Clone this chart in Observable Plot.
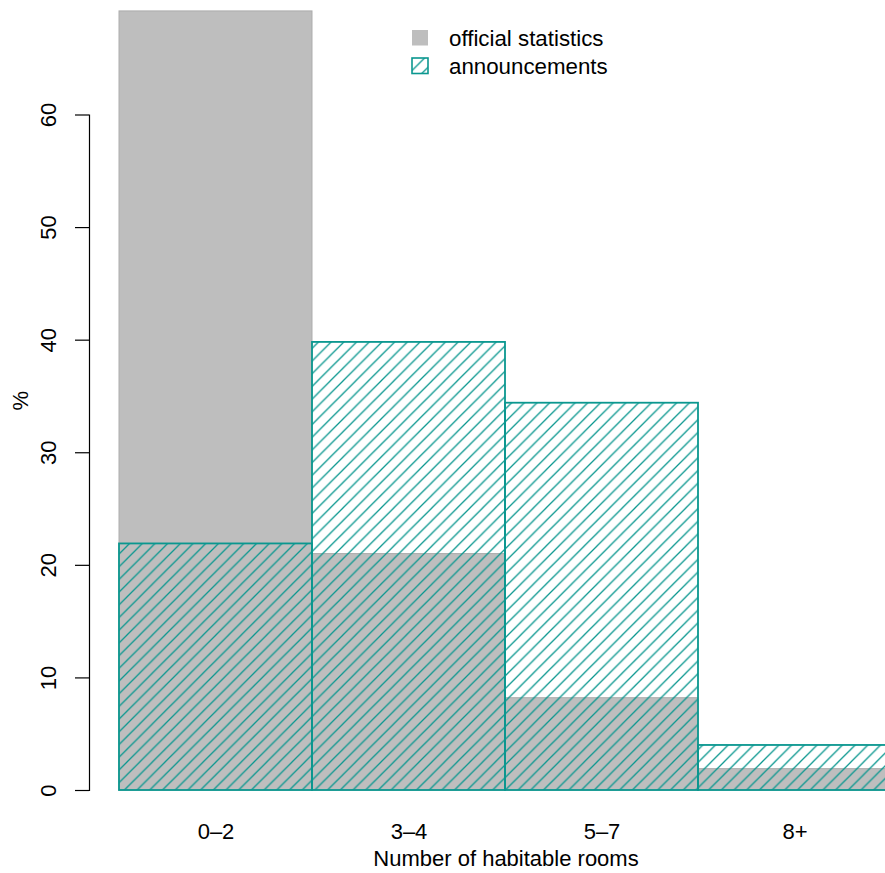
<!DOCTYPE html>
<html>
<head>
<meta charset="utf-8">
<script src="https://cdn.jsdelivr.net/npm/d3@7"></script>
<script src="https://cdn.jsdelivr.net/npm/@observablehq/plot@0.6"></script>
<style>
  html, body { margin: 0; padding: 0; background: #fff; overflow: hidden; }
  #wrap { position: relative; width: 885px; height: 873px; overflow: hidden; }
  #legend { position: absolute; left: 0; top: 0; pointer-events: none; }
</style>
</head>
<body>
<div id="wrap"></div>
<script>
// ---- data ----
const categories = ["0–2", "3–4", "5–7", "8+"];
const official = [69.2, 21.0, 8.2, 1.9];
const announcements = [21.9, 39.8, 34.4, 4.0];
const yTicks = [0, 10, 20, 30, 40, 50, 60];
const seriesNames = ["official statistics", "announcements"];
const xTitle = "Number of habitable rooms";
const yTitle = "%";

// ---- style ----
const FONT = "'Liberation Sans', Arial, Helvetica, sans-serif";
const GREY = "#BEBEBE";
const GREY_EDGE = "#ADADAD";
const TEAL = "#0A978F";

const offData = categories.map((c, i) => ({category: c, value: official[i]}));
const annData = categories.map((c, i) => ({category: c, value: announcements[i]}));

const chart = Plot.plot({
  width: 885,
  height: 873,
  marginLeft: 89,
  marginRight: 0,
  marginTop: 114.5,
  marginBottom: 83,
  style: {fontFamily: FONT, fontSize: "22px", background: "white", color: "black"},
  x: {type: "band", domain: categories, range: [118.5, 890.5], padding: 0},
  y: {domain: [0, 60], label: null},
  marks: [
    Plot.barY(offData, {x: "category", y: "value", fill: GREY, stroke: GREY_EDGE, strokeWidth: 1}),
    Plot.barY(annData, {x: "category", y: "value", fill: "url(#hatch)", stroke: TEAL, strokeWidth: 1.8}),
    Plot.frame({anchor: "left", stroke: "black", strokeWidth: 1.2}),
    Plot.axisY({ticks: yTicks, tickSize: 14, tickFormat: () => "", label: null, strokeWidth: 1.2}),
    Plot.text(yTicks, {y: d => d, text: d => String(d), frameAnchor: "left", textAnchor: "middle", lineAnchor: "middle", dx: -41, rotate: -90, fontSize: 22, fill: "black"}),
    Plot.axisX({tickSize: 0, tickPadding: 33, fontSize: 22, label: null}),
    Plot.text([xTitle], {text: d => d, frameAnchor: "bottom", textAnchor: "middle", lineAnchor: "middle", dx: 18.5, dy: 68, fontSize: 22, fill: "black"}),
    Plot.text([yTitle], {text: d => d, frameAnchor: "left", textAnchor: "middle", lineAnchor: "middle", dx: -69, dy: -52, rotate: -90, fontSize: 22, fill: "black"})
  ]
});

// hatch pattern definition
function addHatch(svgSel, id) {
  const s = 12.7;
  const defs = svgSel.insert("defs", ":first-child");
  const p = defs.append("pattern")
    .attr("id", id)
    .attr("patternUnits", "userSpaceOnUse")
    .attr("width", s).attr("height", s);
  p.append("path")
    .attr("d", `M0,${s} L${s},0 M${-s/2},${s/2} L${s/2},${-s/2} M${s/2},${s*1.5} L${s*1.5},${s/2}`)
    .attr("stroke", TEAL).attr("stroke-width", 1.3).attr("fill", "none");
}
addHatch(d3.select(chart), "hatch");
document.getElementById("wrap").appendChild(chart);

// legend overlay
const lg = d3.select("#wrap").append("svg")
  .attr("id", "legend").attr("width", 885).attr("height", 873);
addHatch(lg, "hatchL");
const rows = [
  {name: seriesNames[0], fill: GREY, stroke: GREY, sw: 0, top: 30, base: 46},
  {name: seriesNames[1], fill: "url(#hatchL)", stroke: TEAL, sw: 1.6, top: 58, base: 73.5}
];
const g = lg.selectAll("g").data(rows).join("g");
g.append("rect")
  .attr("x", 412).attr("y", d => d.top).attr("width", 16).attr("height", 15.5)
  .attr("fill", d => d.fill).attr("stroke", d => d.stroke).attr("stroke-width", d => d.sw);
g.append("text")
  .attr("x", 449).attr("y", d => d.base)
  .attr("font-family", FONT).attr("font-size", 22.3).attr("fill", "black")
  .text(d => d.name);
</script>
</body>
</html>
